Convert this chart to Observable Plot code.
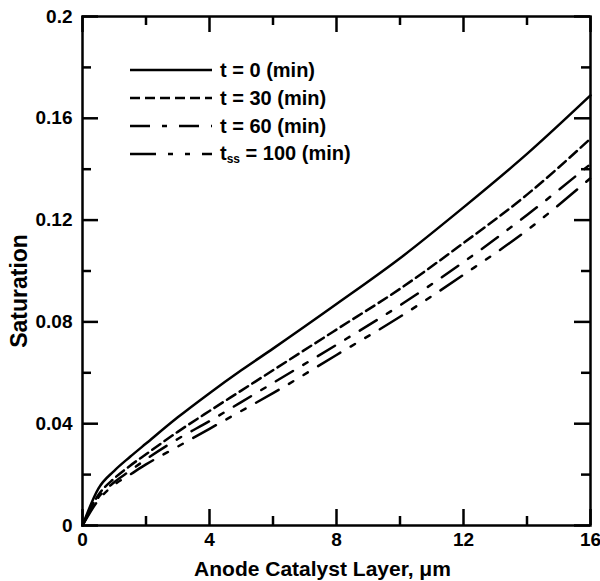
<!DOCTYPE html>
<html>
<head>
<meta charset="utf-8">
<script src="https://cdn.jsdelivr.net/npm/d3@7"></script>
<script src="https://cdn.jsdelivr.net/npm/@observablehq/plot@0.6"></script>
<style>
  html, body { margin: 0; padding: 0; background: #fff; }
  #wrap { position: relative; width: 600px; height: 581px; font-family: "Liberation Sans", Arial, Helvetica, sans-serif; }
  #legend { position: absolute; left: 130px; top: 56px; }
  .row { display: flex; align-items: center; height: 28px; }
  .row svg { width: 82px; height: 6px; margin-right: 8px; }
  .row span { font-size: 20px; font-weight: bold; color: #000; line-height: 1; }
  .row sub { font-size: 12px; vertical-align: -3px; }
</style>
</head>
<body>
<div id="wrap"><div id="chart"></div><div id="legend"></div></div>
<script>
// Data
const xs     = [0, 0.5, 1, 1.5, 2, 3, 4, 5, 6, 8, 10, 12, 14, 16];
const sT0    = [0, 0.0145, 0.0215, 0.027, 0.0322, 0.0425, 0.052, 0.061, 0.0695, 0.087, 0.105, 0.125, 0.146, 0.169];
const sT30   = [0, 0.012, 0.0185, 0.0235, 0.028, 0.0368, 0.045, 0.053, 0.061, 0.077, 0.093, 0.111, 0.130, 0.152];
const sT60   = [0, 0.011, 0.017, 0.0215, 0.026, 0.034, 0.041, 0.0485, 0.056, 0.071, 0.0865, 0.1035, 0.122, 0.142];
const sT100  = [0, 0.010, 0.016, 0.020, 0.024, 0.031, 0.038, 0.045, 0.052, 0.067, 0.082, 0.0985, 0.116, 0.1365];
const seriesNames = ["t = 0 (min)", "t = 30 (min)", "t = 60 (min)", "tss = 100 (min)"];
const seriesDash = ["none", "10,5", "20,12,5,12", "26,12,5,12,5,12"];
const xMajor = [0, 4, 8, 12, 16];
const xMinor = [2, 6, 10, 14];
const yMajor = [0, 0.04, 0.08, 0.12, 0.16, 0.2];
const yMinor = [0.02, 0.06, 0.10, 0.14, 0.18];

const allSeries = [sT0, sT30, sT60, sT100];
const rows = allSeries.map((vals, i) => xs.map((x, j) => ({x, y: vals[j], s: seriesNames[i]})));

const W = 600, H = 581, mL = 82, mR = 10, mT = 16, mB = 56;
const innerH = H - mT - mB, innerW = W - mL - mR;
const major = 16, minor = 9, tw = 2.5;

const marks = [];
rows.forEach((r, i) => {
  marks.push(Plot.line(r, {x: "x", y: "y", stroke: "#000", strokeWidth: 2.5, strokeDasharray: seriesDash[i] === "none" ? null : seriesDash[i], curve: "monotone-x"}));
});
// inward ticks on all four sides
for (const [vals, len] of [[xMajor, major], [xMinor, minor]]) {
  marks.push(Plot.tickX(vals, {x: d => d, stroke: "#000", strokeWidth: tw, insetTop: innerH - len}));
  marks.push(Plot.tickX(vals, {x: d => d, stroke: "#000", strokeWidth: tw, insetBottom: innerH - len}));
}
for (const [vals, len] of [[yMajor, major], [yMinor, minor]]) {
  marks.push(Plot.tickY(vals, {y: d => d, stroke: "#000", strokeWidth: tw, insetRight: innerW - len}));
  marks.push(Plot.tickY(vals, {y: d => d, stroke: "#000", strokeWidth: tw, insetLeft: innerW - len}));
}
marks.push(Plot.frame({stroke: "#000", strokeWidth: 2.5}));
marks.push(Plot.axisX(xMajor, {tickSize: 0, tickPadding: 7, fontSize: 19, fontWeight: "bold", label: null, tickFormat: d => String(d)}));
marks.push(Plot.axisY(yMajor, {tickSize: 0, tickPadding: 10, fontSize: 19, fontWeight: "bold", label: null, tickFormat: d => String(d)}));
marks.push(Plot.text(["Anode Catalyst Layer, μm"], {frameAnchor: "bottom", dx: -14, dy: 50, lineAnchor: "bottom", textAnchor: "middle", fontSize: 21, fontWeight: "bold", text: d => d}));
marks.push(Plot.text(["Saturation"], {frameAnchor: "left", dx: -63, dy: 20, rotate: -90, textAnchor: "middle", fontSize: 23, fontWeight: "bold", text: d => d}));

const chart = Plot.plot({
  width: W, height: H,
  marginLeft: mL, marginRight: mR, marginTop: mT, marginBottom: mB,
  style: {fontFamily: "'Liberation Sans', Arial, Helvetica, sans-serif", color: "#000", background: "#fff"},
  x: {domain: [0, 16]},
  y: {domain: [0, 0.2]},
  marks
});
document.getElementById("chart").appendChild(chart);

// legend
const leg = document.getElementById("legend");
seriesNames.forEach((name, i) => {
  const row = document.createElement("div");
  row.className = "row";
  const dash = seriesDash[i] === "none" ? "" : `stroke-dasharray="${seriesDash[i]}"`;
  const label = name.startsWith("tss") ? "t<sub>ss</sub>" + name.slice(3) : name;
  row.innerHTML = `<svg viewBox="0 0 82 6"><line x1="0" x2="82" y1="3" y2="3" stroke="#000" stroke-width="2.5" ${dash}/></svg><span>${label}</span>`;
  leg.appendChild(row);
});
</script>
</body>
</html>
